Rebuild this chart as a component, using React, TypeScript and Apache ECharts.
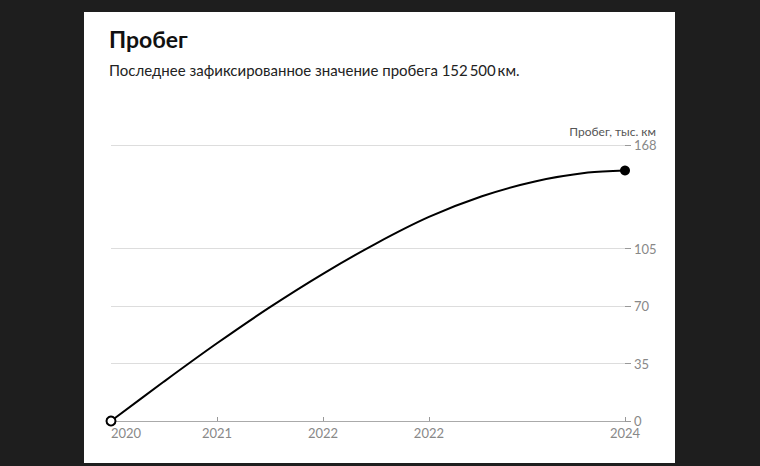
import React, { useEffect, useRef } from "react";
import * as echarts from "echarts";

// x positions are months since the first record; labels show the year
const xValues = [0, 5, 10, 15, 20, 25, 30, 35, 40, 45, 48.5];
const mileage = [0, 24.0, 47.3, 69.3, 89.6, 108.0, 124.2, 136.8, 145.8, 151.2, 152.5];
const xTickValues = [0, 10, 20, 30, 48.5];
const xTickLabels = ["2020", "2021", "2022", "2022", "2024"];
const yTickValues = [0, 35, 70, 105, 168];

const titleText = "Пробег";
const subtitleText = "Последнее зафиксированное значение пробега 152\u2009500\u2009км.";
const yAxisName = "Пробег, тыс. км";

export default function App() {
  const ref = useRef<HTMLDivElement>(null);
  useEffect(() => {
    if (!ref.current) return;
    const chart = echarts.init(ref.current, undefined, { renderer: "svg" });
    const font = "Lato, 'Noto Sans', sans-serif";
    const data = xValues.map((x, i) => {
      const item: any = { value: [x, mileage[i]] };
      if (i === 0) {
        item.symbol = "circle";
        item.symbolSize = 9;
        item.itemStyle = { color: "#ffffff", borderColor: "#000000", borderWidth: 2 };
      } else if (i === xValues.length - 1) {
        item.symbol = "circle";
        item.symbolSize = 10;
        item.itemStyle = { color: "#000000", borderColor: "#000000", borderWidth: 0 };
      } else {
        item.symbol = "none";
      }
      return item;
    });
    chart.setOption({
      animation: false,
      backgroundColor: "#1e1e1e",
      textStyle: { fontFamily: font },
      graphic: [
        {
          type: "rect",
          z: -10,
          shape: { x: 84, y: 12, width: 591, height: 451 },
          style: { fill: "#ffffff" },
        },
        {
          type: "text",
          x: 656,
          y: 137,
          style: {
            text: yAxisName,
            fill: "#555555",
            font: `12px ${font}`,
            textAlign: "right",
            textVerticalAlign: "bottom",
          },
        },
      ],
      title: {
        text: titleText,
        subtext: subtitleText,
        left: 104,
        top: 22,
        itemGap: 12,
        textStyle: { fontFamily: font, fontSize: 23, fontWeight: "bold", color: "#111111" },
        subtextStyle: { fontFamily: font, fontSize: 15, color: "#222222" },
      },
      grid: { left: 111, right: 135, top: 145, bottom: 45, containLabel: false },
      xAxis: {
        type: "value",
        min: 0,
        max: 48.5,
        interval: 10,
        axisLine: { show: true, onZero: false, lineStyle: { color: "#aaaaaa", width: 1 } },
        axisTick: {
          show: true,
          inside: true,
          length: 4,
          customValues: [10, 20, 30, 48.5],
          lineStyle: { color: "#999999" },
        },
        splitLine: { show: false },
        axisLabel: {
          customValues: xTickValues,
          formatter: (v: number) => {
            const idx = xTickValues.findIndex((t) => Math.abs(t - v) < 1e-6);
            return idx >= 0 ? xTickLabels[idx] : "";
          },
          color: "#888888",
          fontSize: 13,
          margin: 5,
          alignMinLabel: "left",
          fontFamily: font,
        },
      },
      yAxis: {
        type: "value",
        position: "right",
        min: 0,
        max: 168,
        axisLine: { show: false, onZero: false },
        axisTick: {
          show: true,
          length: 6,
          customValues: yTickValues,
          lineStyle: { color: "#999999" },
        },
        splitLine: { show: true, lineStyle: { color: "#dddddd", width: 1 } },
        axisLabel: {
          customValues: yTickValues,
          color: "#888888",
          fontSize: 13,
          margin: 9,
          fontFamily: font,
        },
      },
      series: [
        {
          type: "line",
          data,
          smooth: 0.3,
          lineStyle: { color: "#000000", width: 2 },
          z: 5,
        },
      ],
    });
    return () => chart.dispose();
  }, []);
  return (
    <div
      ref={ref}
      style={{ position: "fixed", left: 0, top: 0, width: 760, height: 466 }}
    />
  );
}
